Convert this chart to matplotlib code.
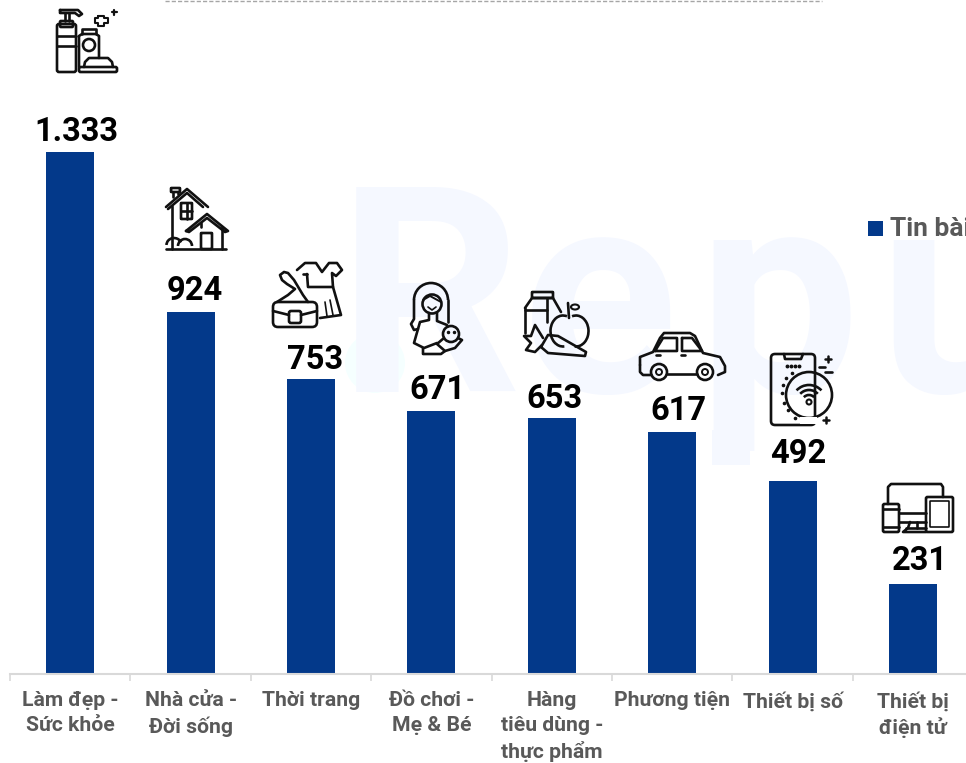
import numpy as np
import matplotlib
matplotlib.use("Agg")
import matplotlib.pyplot as plt
from matplotlib.patches import Circle, FancyBboxPatch, Rectangle, Arc, Ellipse

plt.rcParams["font.family"] = ["Roboto", "DejaVu Sans"]

categories = ["Làm đẹp -\nSức khỏe", "Nhà cửa -\nĐời sống", "Thời trang", "Đồ chơi -\nMẹ & Bé",
              "Hàng\ntiêu dùng -\nthực phẩm", "Phương tiện", "Thiết bị số", "Thiết bị\nđiện tử"]
values = [1333, 924, 753, 671, 653, 617, 492, 231]
value_labels = ["1.333", "924", "753", "671", "653", "617", "492", "231"]
series_name = "Tin bài"

# Nhan so dat lech so voi cot (pixel)
label_dx = [6.5, 4, 4, 6, 3, 6.5, 6, 7]
label_dy = [11, 12, 10, 12.5, 10, 12, 18, 13.5]

W, H = 966, 763
BLUE = "#03398A"
GREY = "#595959"
AXIS = "#D9D9D9"
INK = "#111111"
PALE = "#F5F8FF"

fig = plt.figure(figsize=(W / 100, H / 100), dpi=100)

# Lop nen: watermark va duong net dut, toa do theo pixel
bg = fig.add_axes([0, 0, 1, 1], zorder=0)
bg.set_xlim(0, W)
bg.set_ylim(H, 0)
bg.axis("off")
for ch, px in zip("Repu", [338, 522, 697, 878]):
    bg.text(px, 392, ch, fontsize=207, fontweight="bold", color=PALE, va="baseline", ha="left")
bg.add_patch(Rectangle((712, 430), 38, 35, fc=PALE, ec="none"))
bg.add_patch(Circle((375, 363), 30, fc="#F5FFFF", ec="none"))
bg.plot([165, 822], [0.5, 0.5], color="#A6A6A6", lw=1, ls=(0, (3, 1.5)))

# Bieu do chinh, truc keo dai qua mep phai cua hinh
left, step, base = 10, 120.4, 674
ax = fig.add_axes([left / W, (H - base) / H, step * 8 / W, base / H], zorder=1)
ax.patch.set_alpha(0)
ax.set_xlim(-0.5, 7.5)
ax.set_ylim(0, base / 0.3916)
x = np.arange(len(values))
ax.bar(x, values, width=0.4, color=BLUE)
for s in ["top", "left", "right"]:
    ax.spines[s].set_visible(False)
ax.spines["bottom"].set_color(AXIS)
ax.spines["bottom"].set_linewidth(1.5)
ax.set_yticks([])
ax.set_xticks(np.arange(-0.5, 8, 1))
ax.set_xticklabels([])
ax.tick_params(axis="x", which="major", length=5, width=1.2, color=AXIS)
ax.set_xticks(x, minor=True)
ax.set_xticklabels(categories, minor=True, fontsize=15.2, fontweight="bold", color=GREY, linespacing=1.36)
ax.tick_params(axis="x", which="minor", length=0, pad=12.5)

for xi, v, lab, dx, dy in zip(x, values, value_labels, label_dx, label_dy):
    ax.annotate(lab, (xi, v), xytext=(dx, dy), textcoords="offset pixels", ha="center", va="baseline",
                fontsize=23.5, fontweight="bold", color="black")

# Lop tren: chu giai va bieu tuong
ov = fig.add_axes([0, 0, 1, 1], zorder=2)
ov.set_xlim(0, W)
ov.set_ylim(H, 0)
ov.axis("off")
ov.add_patch(Rectangle((868, 221), 15, 15, fc=BLUE, ec="none"))
ov.text(890, 236, series_name, fontsize=19, fontweight="bold", color=GREY, va="baseline", ha="left")


def line(*pts, lw=1.9):
    xs, ys = zip(*pts)
    ov.plot(xs, ys, color=INK, lw=lw, solid_capstyle="round", solid_joinstyle="round")


def box(x0, y0, x1, y1, r=2.0, lw=1.9):
    ov.add_patch(FancyBboxPatch((x0 + r, y0 + r), x1 - x0 - 2 * r, y1 - y0 - 2 * r,
                                boxstyle="round,pad=%f,rounding_size=%f" % (r, r), fc="none", ec=INK, lw=lw))


def circle(cx, cy, r, lw=1.9):
    ov.add_patch(Circle((cx, cy), r, fc="none", ec=INK, lw=lw))


# Truc y dao nguoc nen 270 do la phia tren
def arc(cx, cy, w, h, t1, t2, lw=1.9):
    ov.add_patch(Arc((cx, cy), w, h, theta1=t1, theta2=t2, color=INK, lw=lw))


def plus(cx, cy, r, lw=1.9):
    line((cx - r, cy), (cx + r, cy), lw=lw)
    line((cx, cy - r), (cx, cy + r), lw=lw)


def icon_beauty():
    box(57, 24, 76, 72)
    line((57, 36), (76, 36))
    line((57, 46), (76, 46))
    box(60, 21, 73, 27, r=1)
    line((65, 21), (65, 13))
    line((69, 21), (69, 13))
    line((60, 10), (78, 10), (82, 14), (79, 16), (75, 13), (60, 13), (60, 10))
    line((79, 67), (79, 36), (82, 34), (96, 34), (99, 36), (99, 58))
    line((82, 34), (82, 29), (96, 29), (96, 34))
    circle(89, 45, 6)
    line((84, 67), (85, 62), (89, 58), (108, 58), (112, 62), (113, 67))
    box(79, 67, 117, 72, r=1.5)
    line((98, 16), (104, 16), (104, 18), (108, 18), (108, 23), (104, 23), (104, 26), (98, 26), (98, 23), (95, 23),
         (95, 18), (98, 18), (98, 16), lw=1.5)
    plus(114, 12, 2.5, lw=1.6)


def icon_house():
    line((166, 207), (187, 189), (208, 207))
    line((168, 209), (187, 193), (203, 207))
    box(171, 188, 180, 192, r=0.5)
    line((173, 192), (173, 197))
    line((178, 192), (178, 194))
    line((172, 206), (172, 249))
    box(181, 203, 192, 219, r=0.5)
    line((186.5, 203), (186.5, 219))
    line((181, 211), (192, 211))
    line((186, 231), (207, 214), (228, 231), (225, 232), (207, 218), (189, 232), (186, 231))
    line((201, 223), (201, 227))
    line((222, 227), (222, 249))
    box(201, 233, 212, 249, r=0.5)
    arc(174, 245, 15, 14, 180, 340)
    arc(185, 246, 14, 14, 180, 360)
    line((166, 249), (226, 249))


def icon_fashion():
    box(273, 302, 317, 327, r=5)
    box(289, 311, 301, 323, r=2)
    line((273, 311), (289, 315))
    line((301, 315), (317, 311))
    line((277, 302), (288, 295), (295, 289), (287, 284), (282, 280), (280, 275), (284, 272), (288, 273), (294, 280),
         (303, 295), (308, 302))
    line((297, 270), (305, 263), (316, 263), (322, 272), (329, 263), (337, 263), (342, 270), (336, 276), (332, 273), (333, 287))
    line((307, 274), (308, 287), (333, 287), (341, 315), (320, 318))
    line((303, 274), (307, 274))
    line((330, 300), (333, 315), lw=1.2)
    line((325, 302), (327, 316), lw=1.2)


def icon_mother():
    arc(431, 300, 34, 34, 180, 360)
    line((414, 300), (414, 319), (411, 324), (414, 330), (418, 329))
    line((448, 300), (448, 322))
    circle(432, 304, 9.5)
    line((423, 300), (430, 296), (441, 302), lw=1.4)
    line((429, 313), (429, 320), (420, 322), (414, 343), (424, 348), (437, 343))
    line((437, 313), (437, 321), (447, 325))
    line((423, 348), (423, 354), (441, 354), (445, 351))
    circle(451, 334, 8)
    line((444, 338), (437, 344), (445, 351), (455, 348), (462, 340), (458, 338))
    line((428, 307), (432, 310), (436, 307), lw=1.2)
    ov.plot([448, 454], [332, 332], ls="none", marker="o", ms=1.5, color=INK)


def icon_food():
    line((525, 308), (525, 333))
    line((525, 308), (532, 298), (553, 298), (561, 312))
    box(532, 292, 553, 298, r=0.5)
    line((547, 298), (547, 322))
    line((525, 310), (547, 310))
    arc(563, 331, 25, 31, 85, 285)
    arc(576, 331, 25, 31, -105, 95)
    line((569, 318), (568, 303))
    ov.add_patch(Ellipse((575, 307), 8, 5, fc="none", ec=INK, lw=1.5))
    line((543, 338), (535, 325), (531, 336), (524, 336), (531, 343), (526, 350), (535, 352), (542, 345))
    line((541, 347), (548, 353), (585, 356), (586, 352), (558, 336), (548, 335), (541, 347))


def icon_car():
    line((640, 365), (640, 357), (653, 352), (660, 338), (664, 333), (690, 333), (695, 336), (703, 353), (720, 357), (725, 366),
         (725, 372), (718, 375))
    line((651, 375), (643, 375), (640, 372), (640, 365))
    line((667, 374), (697, 374))
    circle(659, 372, 8)
    circle(659, 372, 3, lw=1.4)
    circle(705, 372, 8)
    circle(705, 372, 3, lw=1.4)
    line((655, 351), (663, 338), (677, 338), (677, 351), (655, 351))
    line((682, 338), (692, 338), (702, 351), (682, 351), (682, 338))
    line((656, 355), (660, 355))
    line((681, 355), (685, 355))


def icon_phone():
    box(771, 354, 815, 425, r=4)
    ov.add_patch(Circle((809, 395), 23, fc="none", ec=INK, lw=1.9))
    ov.add_patch(Rectangle((800, 417), 17, 7, fc="white", ec="none"))
    line((784, 354), (785, 359), (801, 359), (803, 354))
    ov.plot([787, 791, 795, 799], [366, 366, 366, 366], ls="none", marker="o", ms=1.8, color=INK)
    ov.plot([792, 786, 783, 782, 784, 788, 795], [373, 378, 385, 393, 403, 410, 418], ls="none", marker="o", ms=1.6, color=INK)
    arc(809, 402, 34, 34, 223, 317)
    arc(809, 402, 24, 24, 223, 317)
    arc(809, 402, 14, 14, 223, 317)
    circle(809, 402, 2.5, lw=1.5)
    plus(828, 359, 3, lw=1.8)
    line((819, 367), (825, 367))
    line((825, 372), (832, 372))
    plus(826, 420, 3, lw=1.8)


def icon_devices():
    line((888, 504), (888, 487), (891, 484), (941, 484), (943, 487), (943, 497))
    box(883, 504, 899, 532, r=1.5)
    line((883, 509), (899, 509))
    line((883, 527), (899, 527))
    box(926, 497, 953, 532, r=1.5)
    box(930, 501, 949, 527, r=0.5, lw=1.2)
    line((899, 513), (926, 513))
    line((899, 522), (926, 522))
    line((910, 522), (908, 528), (903, 532), (926, 532))
    line((917, 522), (917, 528))
    line((906, 528), (926, 528))


for draw in [icon_beauty, icon_house, icon_fashion, icon_mother, icon_food, icon_car, icon_phone, icon_devices]:
    draw()

fig.savefig("out.png", dpi=100)
plt.close()
